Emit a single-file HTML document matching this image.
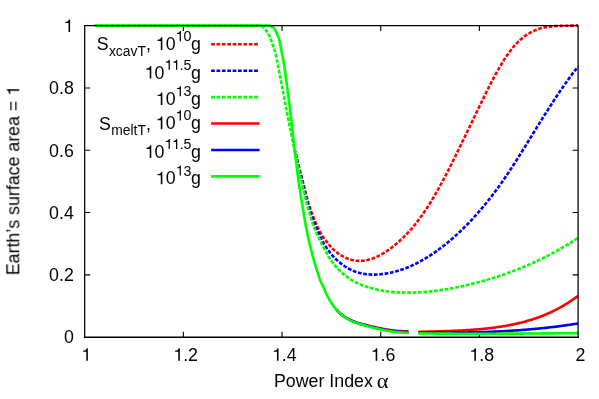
<!DOCTYPE html>
<html><head><meta charset="utf-8"><title>plot</title>
<style>
html,body{margin:0;padding:0;background:#fff;}
body{width:599px;height:399px;position:relative;overflow:hidden;font-family:"Liberation Sans",sans-serif;}
</style></head><body>
<svg width="599" height="399" viewBox="0 0 599 399" style="position:absolute;left:0;top:0">
<rect width="599" height="399" fill="#fff"/>
<g fill="none" stroke="#000" stroke-width="1.1">
<path d="M183.36,337.2 v-5.5 M183.36,25.62 v5.5"/>
<path d="M84.67,274.88 h5.5 M578.1,274.88 h-5.5"/>
<path d="M282.04,337.2 v-5.5 M282.04,25.62 v5.5"/>
<path d="M84.67,212.57 h5.5 M578.1,212.57 h-5.5"/>
<path d="M380.73,337.2 v-5.5 M380.73,25.62 v5.5"/>
<path d="M84.67,150.25 h5.5 M578.1,150.25 h-5.5"/>
<path d="M479.41,337.2 v-5.5 M479.41,25.62 v5.5"/>
<path d="M84.67,87.94 h5.5 M578.1,87.94 h-5.5"/>
</g>
<g fill="none" stroke-linejoin="round" stroke-width="2.62">
<path d="M294.99,150.91 L295.22,151.88 L295.45,152.85 L295.68,153.83 L295.92,154.80 L296.15,155.77 L296.39,156.74 L296.63,157.71 L296.87,158.68 L297.11,159.65 L297.36,160.62 L297.60,161.59 L297.85,162.56 L298.10,163.53 L298.35,164.50 L298.60,165.47 L298.85,166.43 L299.10,167.40 L299.35,168.37 L299.60,169.34 L299.86,170.31 L300.11,171.27 L300.37,172.24 L300.62,173.21 L300.87,174.18 L301.13,175.14 L301.38,176.11 L301.64,177.08 L301.89,178.04 L302.14,179.01 L302.39,179.98 L302.65,180.95 L302.89,181.92 L303.14,182.89 L303.39,183.86 L303.63,184.83 L303.87,185.80 L304.11,186.77 L304.36,187.74 L304.60,188.72 L304.84,189.69 L305.08,190.66 L305.33,191.63 L305.57,192.60 L305.82,193.57 L306.07,194.54 L306.32,195.51 L306.57,196.48 L306.83,197.44 L307.09,198.41 L307.35,199.37 L307.62,200.34 L307.89,201.30 L308.17,202.26 L308.45,203.21 L308.74,204.17 L309.03,205.12 L309.32,206.08 L309.63,207.03 L309.94,207.97 L310.26,208.92 L310.59,209.87 L310.92,210.81 L311.26,211.75 L311.60,212.69 L311.96,213.63 L312.31,214.57 L312.68,215.50 L313.04,216.43 L313.42,217.36 L313.79,218.29 L314.17,219.21 L314.56,220.13 L314.94,221.05 L315.34,221.97 L315.73,222.89 L316.14,223.81 L316.55,224.72 L316.96,225.64 L317.38,226.55 L317.81,227.46 L318.24,228.36 L318.69,229.26 L319.13,230.16 L319.59,231.04 L320.06,231.93 L320.53,232.80 L321.02,233.67 L321.51,234.54 L322.03,235.39 L322.58,236.23 L323.14,237.07 L323.71,237.89 L324.29,238.70 L324.89,239.49 L325.51,240.28 L326.14,241.06 L326.78,241.83 L327.42,242.59 L328.06,243.36 L328.70,244.14 L329.32,244.92 L329.93,245.71 L330.51,246.53 L331.12,247.32 L331.83,248.02 L332.56,248.71 L333.29,249.39 L334.04,250.06 L334.79,250.71 L335.56,251.36 L336.33,251.98 L337.12,252.60 L337.92,253.20 L338.73,253.78 L339.56,254.35 L340.39,254.90 L341.24,255.43 L342.10,255.94 L342.97,256.43 L343.85,256.91 L344.75,257.35 L345.65,257.78 L346.57,258.18 L347.49,258.56 L348.43,258.91 L349.38,259.23 L350.33,259.53 L351.30,259.79 L352.27,260.03 L353.24,260.24 L354.23,260.42 L355.22,260.57 L356.21,260.69 L357.21,260.78 L358.20,260.84 L359.20,260.87 L360.20,260.87 L361.20,260.84 L362.20,260.78 L363.20,260.69 L364.19,260.58 L365.18,260.43 L366.17,260.26 L367.15,260.07 L368.12,259.85 L369.09,259.60 L370.05,259.34 L371.01,259.05 L371.96,258.73 L372.91,258.40 L373.84,258.05 L374.77,257.68 L375.69,257.30 L376.61,256.89 L377.52,256.47 L378.41,256.03 L379.31,255.58 L380.19,255.12 L381.07,254.64 L381.94,254.15 L382.81,253.64 L383.66,253.13 L384.51,252.60 L385.36,252.06 L386.19,251.52 L387.02,250.96 L387.85,250.39 L388.66,249.82 L389.47,249.23 L390.28,248.64 L391.08,248.04 L391.87,247.43 L392.66,246.82 L393.45,246.20 L394.23,245.57 L395.00,244.93 L395.77,244.29 L396.53,243.65 L397.29,243.00 L398.04,242.34 L398.79,241.67 L399.53,241.00 L400.27,240.33 L401.00,239.65 L401.73,238.96 L402.45,238.27 L403.17,237.58 L403.88,236.87 L404.59,236.17 L405.29,235.46 L405.99,234.74 L406.68,234.02 L407.37,233.29 L408.05,232.56 L408.73,231.83 L409.40,231.09 L410.07,230.34 L410.73,229.59 L411.39,228.84 L412.04,228.08 L412.69,227.32 L413.34,226.55 L413.97,225.78 L414.61,225.01 L415.24,224.23 L415.86,223.45 L416.48,222.67 L417.10,221.88 L417.71,221.09 L418.32,220.29 L418.92,219.49 L419.52,218.69 L420.11,217.89 L420.70,217.08 L421.28,216.27 L421.86,215.46 L422.44,214.64 L423.02,213.82 L423.58,213.00 L424.15,212.17 L424.71,211.35 L425.27,210.52 L425.83,209.69 L426.38,208.85 L426.93,208.02 L427.47,207.18 L428.01,206.34 L428.55,205.49 L429.09,204.65 L429.62,203.80 L430.15,202.95 L430.68,202.10 L431.20,201.25 L431.72,200.40 L432.24,199.54 L432.75,198.69 L433.27,197.83 L433.78,196.97 L434.28,196.10 L434.79,195.24 L435.29,194.38 L435.79,193.51 L436.29,192.64 L436.78,191.77 L437.27,190.90 L437.76,190.03 L438.25,189.16 L438.74,188.29 L439.22,187.41 L439.71,186.54 L440.19,185.66 L440.67,184.78 L441.14,183.90 L441.62,183.02 L442.09,182.14 L442.57,181.26 L443.04,180.38 L443.51,179.50 L443.97,178.61 L444.44,177.73 L444.91,176.84 L445.37,175.96 L445.83,175.07 L446.29,174.18 L446.75,173.29 L447.21,172.40 L447.67,171.52 L448.12,170.63 L448.58,169.74 L449.03,168.84 L449.49,167.95 L449.94,167.06 L450.39,166.17 L450.84,165.28 L451.29,164.38 L451.74,163.49 L452.19,162.59 L452.63,161.70 L453.08,160.80 L453.52,159.91 L453.97,159.01 L454.41,158.12 L454.85,157.22 L455.30,156.32 L455.74,155.43 L456.18,154.53 L456.62,153.63 L457.06,152.73 L457.50,151.84 L457.94,150.94 L458.38,150.04 L458.82,149.14 L459.25,148.24 L459.69,147.34 L460.13,146.44 L460.57,145.54 L461.00,144.64 L461.44,143.74 L461.87,142.84 L462.31,141.94 L462.75,141.04 L463.18,140.14 L463.62,139.24 L464.05,138.34 L464.48,137.44 L464.92,136.54 L465.35,135.64 L465.79,134.74 L466.22,133.84 L466.65,132.93 L467.09,132.03 L467.52,131.13 L467.95,130.23 L468.39,129.33 L468.82,128.43 L469.25,127.53 L469.68,126.63 L470.12,125.72 L470.55,124.82 L470.98,123.92 L471.42,123.02 L471.85,122.12 L472.28,121.22 L472.71,120.31 L473.15,119.41 L473.58,118.51 L474.01,117.61 L474.44,116.71 L474.88,115.81 L475.31,114.91 L475.74,114.00 L476.18,113.10 L476.61,112.20 L477.04,111.30 L477.48,110.40 L477.91,109.50 L478.35,108.60 L478.78,107.70 L479.21,106.80 L479.65,105.90 L480.08,105.00 L480.52,104.10 L480.95,103.19 L481.39,102.29 L481.83,101.40 L482.26,100.50 L482.70,99.60 L483.14,98.70 L483.58,97.80 L484.02,96.90 L484.46,96.00 L484.90,95.10 L485.34,94.21 L485.78,93.31 L486.22,92.41 L486.67,91.52 L487.11,90.62 L487.56,89.73 L488.01,88.83 L488.46,87.94 L488.91,87.05 L489.36,86.16 L489.81,85.27 L490.27,84.37 L490.73,83.48 L491.18,82.60 L491.65,81.71 L492.11,80.82 L492.57,79.94 L493.04,79.05 L493.51,78.17 L493.98,77.28 L494.45,76.40 L494.92,75.52 L495.40,74.64 L495.88,73.77 L496.36,72.89 L496.85,72.02 L497.34,71.14 L497.83,70.27 L498.32,69.40 L498.82,68.54 L499.32,67.67 L499.82,66.81 L500.33,65.94 L500.84,65.08 L501.35,64.23 L501.87,63.37 L502.39,62.52 L502.92,61.67 L503.45,60.82 L503.99,59.98 L504.53,59.13 L505.07,58.30 L505.62,57.46 L506.18,56.63 L506.74,55.80 L507.30,54.98 L507.88,54.16 L508.46,53.34 L509.04,52.53 L509.63,51.72 L510.23,50.92 L510.84,50.13 L511.45,49.34 L512.08,48.56 L512.71,47.78 L513.35,47.01 L514.00,46.25 L514.66,45.50 L515.32,44.76 L516.00,44.02 L516.69,43.30 L517.39,42.58 L518.10,41.87 L518.81,41.18 L519.54,40.49 L520.28,39.82 L521.03,39.16 L521.79,38.51 L522.57,37.87 L523.35,37.25 L524.14,36.64 L524.95,36.05 L525.76,35.47 L526.59,34.91 L527.42,34.36 L528.27,33.83 L529.13,33.31 L530.00,32.82 L530.87,32.34 L531.76,31.88 L532.66,31.43 L533.56,31.01 L534.48,30.60 L535.40,30.22 L536.33,29.85 L537.27,29.50 L538.21,29.17 L539.16,28.86 L540.12,28.57 L541.08,28.29 L542.05,28.04 L543.02,27.80 L543.99,27.58 L544.97,27.38 L545.95,27.19 L546.94,27.02 L547.93,26.86 L548.92,26.72 L549.91,26.59 L550.90,26.47 L551.90,26.37 L552.89,26.28 L553.89,26.20 L554.89,26.13 L555.89,26.07 L556.88,26.01 L557.88,25.96 L558.88,25.92 L559.88,25.89 L560.88,25.86 L561.88,25.84 L562.88,25.81 L563.88,25.79 L564.88,25.77 L565.88,25.76 L566.88,25.74 L567.88,25.72 L568.88,25.70 L569.88,25.67 L570.88,25.64 L571.88,25.61 L572.88,25.57 L573.88,25.53 L574.87,25.48 L575.87,25.42 L576.87,25.35 L577.87,25.27 L578.00,25.26" stroke="#ff0000" stroke-dasharray="3.75 1.63" stroke-dashoffset="2.090"/>
<path d="M294.91,150.93 L295.13,151.90 L295.35,152.88 L295.57,153.85 L295.80,154.83 L296.02,155.80 L296.25,156.77 L296.48,157.75 L296.70,158.72 L296.94,159.69 L297.17,160.67 L297.40,161.64 L297.63,162.61 L297.87,163.58 L298.10,164.56 L298.34,165.53 L298.57,166.50 L298.81,167.47 L299.05,168.44 L299.29,169.41 L299.52,170.39 L299.76,171.36 L300.00,172.33 L300.24,173.30 L300.48,174.27 L300.72,175.24 L300.96,176.21 L301.20,177.18 L301.44,178.15 L301.68,179.12 L301.92,180.09 L302.16,181.06 L302.40,182.04 L302.64,183.01 L302.87,183.98 L303.11,184.95 L303.34,185.93 L303.58,186.90 L303.81,187.87 L304.05,188.84 L304.28,189.82 L304.52,190.79 L304.76,191.76 L305.00,192.73 L305.24,193.71 L305.48,194.68 L305.72,195.65 L305.97,196.62 L306.21,197.59 L306.46,198.55 L306.72,199.52 L306.97,200.49 L307.23,201.45 L307.49,202.42 L307.76,203.38 L308.03,204.34 L308.30,205.30 L308.58,206.26 L308.86,207.22 L309.14,208.18 L309.44,209.13 L309.73,210.09 L310.03,211.04 L310.34,212.00 L310.65,212.95 L310.96,213.90 L311.28,214.85 L311.60,215.80 L311.93,216.74 L312.26,217.69 L312.60,218.63 L312.94,219.57 L313.29,220.50 L313.64,221.43 L314.00,222.37 L314.37,223.29 L314.74,224.22 L315.13,225.15 L315.51,226.07 L315.90,226.99 L316.30,227.91 L316.70,228.83 L317.10,229.75 L317.50,230.66 L317.91,231.58 L318.32,232.49 L318.73,233.40 L319.14,234.31 L319.55,235.22 L319.97,236.14 L320.39,237.05 L320.81,237.95 L321.25,238.85 L321.69,239.75 L322.15,240.64 L322.62,241.52 L323.10,242.39 L323.61,243.25 L324.12,244.11 L324.65,244.96 L325.19,245.81 L325.73,246.65 L326.29,247.48 L326.85,248.31 L327.43,249.12 L328.02,249.93 L328.62,250.73 L329.22,251.53 L329.81,252.34 L330.39,253.16 L330.97,253.97 L331.63,254.72 L332.30,255.46 L332.98,256.19 L333.67,256.91 L334.37,257.63 L335.08,258.33 L335.80,259.03 L336.52,259.72 L337.26,260.39 L338.01,261.06 L338.76,261.72 L339.53,262.36 L340.30,262.99 L341.09,263.61 L341.88,264.22 L342.69,264.81 L343.50,265.39 L344.33,265.96 L345.16,266.51 L346.00,267.04 L346.86,267.56 L347.72,268.07 L348.60,268.55 L349.48,269.02 L350.37,269.48 L351.27,269.91 L352.18,270.32 L353.10,270.72 L354.03,271.10 L354.96,271.46 L355.90,271.80 L356.85,272.12 L357.80,272.42 L358.76,272.70 L359.73,272.96 L360.70,273.20 L361.67,273.42 L362.65,273.62 L363.64,273.80 L364.62,273.96 L365.61,274.10 L366.61,274.22 L367.60,274.33 L368.60,274.42 L369.59,274.49 L370.59,274.54 L371.59,274.58 L372.59,274.60 L373.59,274.60 L374.59,274.59 L375.59,274.57 L376.59,274.53 L377.59,274.48 L378.59,274.41 L379.58,274.34 L380.58,274.25 L381.58,274.15 L382.57,274.04 L383.56,273.91 L384.55,273.78 L385.54,273.63 L386.53,273.47 L387.52,273.31 L388.50,273.13 L389.48,272.93 L390.46,272.73 L391.44,272.52 L392.41,272.30 L393.38,272.07 L394.35,271.82 L395.32,271.57 L396.29,271.30 L397.25,271.03 L398.21,270.75 L399.16,270.45 L400.12,270.15 L401.07,269.84 L402.01,269.52 L402.96,269.19 L403.90,268.85 L404.84,268.50 L405.77,268.15 L406.70,267.78 L407.63,267.41 L408.55,267.03 L409.48,266.64 L410.39,266.24 L411.31,265.84 L412.22,265.42 L413.13,265.00 L414.03,264.58 L414.93,264.14 L415.83,263.70 L416.72,263.25 L417.61,262.80 L418.50,262.33 L419.38,261.87 L420.26,261.39 L421.14,260.91 L422.01,260.42 L422.88,259.93 L423.75,259.43 L424.61,258.92 L425.47,258.41 L426.32,257.89 L427.18,257.37 L428.02,256.84 L428.87,256.30 L429.71,255.77 L430.55,255.22 L431.39,254.67 L432.22,254.12 L433.05,253.56 L433.87,252.99 L434.69,252.42 L435.51,251.85 L436.33,251.27 L437.14,250.69 L437.95,250.10 L438.76,249.51 L439.56,248.91 L440.36,248.31 L441.16,247.71 L441.95,247.10 L442.74,246.49 L443.53,245.87 L444.32,245.25 L445.10,244.63 L445.88,244.00 L446.65,243.37 L447.43,242.74 L448.20,242.10 L448.96,241.46 L449.73,240.82 L450.49,240.17 L451.25,239.52 L452.01,238.86 L452.76,238.21 L453.51,237.55 L454.26,236.88 L455.00,236.22 L455.75,235.55 L456.49,234.87 L457.22,234.20 L457.96,233.52 L458.69,232.84 L459.42,232.15 L460.15,231.47 L460.87,230.78 L461.59,230.08 L462.31,229.39 L463.03,228.69 L463.74,227.99 L464.45,227.29 L465.16,226.58 L465.86,225.87 L466.57,225.16 L467.27,224.45 L467.96,223.73 L468.66,223.01 L469.35,222.29 L470.04,221.56 L470.73,220.84 L471.41,220.11 L472.10,219.38 L472.78,218.65 L473.45,217.91 L474.13,217.17 L474.80,216.43 L475.47,215.69 L476.14,214.94 L476.80,214.20 L477.47,213.45 L478.13,212.70 L478.78,211.94 L479.44,211.19 L480.09,210.43 L480.74,209.67 L481.39,208.91 L482.04,208.15 L482.68,207.38 L483.32,206.61 L483.96,205.84 L484.59,205.07 L485.23,204.30 L485.86,203.52 L486.49,202.75 L487.12,201.97 L487.74,201.19 L488.36,200.40 L488.98,199.62 L489.60,198.83 L490.22,198.05 L490.83,197.26 L491.44,196.47 L492.05,195.67 L492.66,194.88 L493.27,194.08 L493.87,193.28 L494.47,192.49 L495.07,191.68 L495.67,190.88 L496.26,190.08 L496.85,189.27 L497.44,188.46 L498.03,187.66 L498.62,186.85 L499.20,186.03 L499.78,185.22 L500.36,184.41 L500.94,183.59 L501.52,182.77 L502.09,181.95 L502.66,181.13 L503.23,180.31 L503.80,179.49 L504.37,178.67 L504.93,177.84 L505.50,177.01 L506.06,176.19 L506.62,175.36 L507.17,174.53 L507.73,173.70 L508.29,172.86 L508.84,172.03 L509.39,171.20 L509.94,170.36 L510.49,169.53 L511.04,168.69 L511.59,167.85 L512.13,167.02 L512.67,166.18 L513.22,165.34 L513.76,164.50 L514.30,163.65 L514.84,162.81 L515.38,161.97 L515.92,161.13 L516.45,160.28 L516.99,159.44 L517.53,158.60 L518.06,157.75 L518.59,156.90 L519.13,156.06 L519.66,155.21 L520.19,154.36 L520.72,153.52 L521.25,152.67 L521.78,151.82 L522.31,150.97 L522.84,150.12 L523.37,149.27 L523.89,148.43 L524.42,147.58 L524.95,146.73 L525.47,145.88 L526.00,145.02 L526.53,144.17 L527.05,143.32 L527.58,142.47 L528.10,141.62 L528.63,140.77 L529.15,139.92 L529.68,139.07 L530.20,138.22 L530.73,137.36 L531.25,136.51 L531.77,135.66 L532.30,134.81 L532.82,133.96 L533.35,133.11 L533.87,132.26 L534.40,131.41 L534.92,130.55 L535.45,129.70 L535.97,128.85 L536.50,128.00 L537.02,127.15 L537.55,126.30 L538.08,125.45 L538.60,124.60 L539.13,123.75 L539.66,122.90 L540.19,122.05 L540.71,121.20 L541.24,120.35 L541.77,119.51 L542.30,118.66 L542.83,117.81 L543.36,116.96 L543.89,116.11 L544.43,115.27 L544.96,114.42 L545.49,113.58 L546.03,112.73 L546.56,111.88 L547.10,111.04 L547.63,110.20 L548.17,109.35 L548.71,108.51 L549.24,107.67 L549.78,106.82 L550.32,105.98 L550.87,105.14 L551.41,104.30 L551.95,103.46 L552.49,102.62 L553.04,101.78 L553.58,100.95 L554.13,100.11 L554.68,99.27 L555.23,98.44 L555.78,97.60 L556.33,96.77 L556.88,95.93 L557.44,95.10 L557.99,94.27 L558.55,93.44 L559.11,92.61 L559.67,91.78 L560.23,90.95 L560.79,90.13 L561.36,89.30 L561.92,88.48 L562.49,87.65 L563.06,86.83 L563.63,86.01 L564.20,85.19 L564.78,84.37 L565.35,83.55 L565.93,82.74 L566.51,81.92 L567.09,81.11 L567.68,80.30 L568.26,79.49 L568.85,78.68 L569.44,77.87 L570.03,77.07 L570.63,76.26 L571.23,75.46 L571.83,74.66 L572.43,73.86 L573.03,73.07 L573.64,72.27 L574.25,71.48 L574.86,70.69 L575.48,69.90 L576.09,69.11 L576.72,68.33 L577.34,67.55 L577.97,66.77 L578.00,66.73" stroke="#0000ff" stroke-dasharray="3.75 1.63" stroke-dashoffset="2.089"/>
<path d="M94.50,25.50 L95.50,25.50 L96.50,25.50 L97.50,25.50 L98.50,25.50 L99.50,25.50 L100.50,25.50 L101.50,25.50 L102.50,25.50 L103.50,25.50 L104.50,25.50 L105.50,25.50 L106.50,25.50 L107.50,25.50 L108.50,25.50 L109.50,25.50 L110.50,25.50 L111.50,25.50 L112.50,25.50 L113.50,25.50 L114.50,25.50 L115.50,25.50 L116.50,25.50 L117.50,25.50 L118.50,25.50 L119.50,25.50 L120.50,25.50 L121.50,25.50 L122.50,25.50 L123.50,25.50 L124.50,25.50 L125.50,25.50 L126.50,25.50 L127.50,25.50 L128.50,25.50 L129.50,25.50 L130.50,25.50 L131.50,25.50 L132.50,25.50 L133.50,25.50 L134.50,25.50 L135.50,25.50 L136.50,25.50 L137.50,25.50 L138.50,25.50 L139.50,25.50 L140.50,25.50 L141.50,25.50 L142.50,25.50 L143.50,25.50 L144.50,25.50 L145.50,25.50 L146.50,25.50 L147.50,25.50 L148.50,25.50 L149.50,25.50 L150.50,25.50 L151.50,25.50 L152.50,25.50 L153.50,25.50 L154.50,25.50 L155.50,25.50 L156.50,25.50 L157.50,25.50 L158.50,25.50 L159.50,25.50 L160.50,25.50 L161.50,25.50 L162.50,25.50 L163.50,25.50 L164.50,25.50 L165.50,25.50 L166.50,25.50 L167.50,25.50 L168.50,25.50 L169.50,25.50 L170.50,25.50 L171.50,25.50 L172.50,25.50 L173.50,25.50 L174.50,25.50 L175.50,25.50 L176.50,25.50 L177.50,25.50 L178.50,25.50 L179.50,25.50 L180.50,25.50 L181.50,25.50 L182.50,25.50 L183.50,25.50 L184.50,25.50 L185.50,25.50 L186.50,25.50 L187.50,25.50 L188.50,25.50 L189.50,25.50 L190.50,25.50 L191.50,25.50 L192.50,25.50 L193.50,25.50 L194.50,25.50 L195.50,25.50 L196.50,25.50 L197.50,25.50 L198.50,25.50 L199.50,25.50 L200.50,25.50 L201.50,25.50 L202.50,25.50 L203.50,25.50 L204.50,25.50 L205.50,25.50 L206.50,25.50 L207.50,25.50 L208.50,25.50 L209.50,25.50 L210.50,25.50 L211.50,25.50 L212.50,25.50 L213.50,25.50 L214.50,25.50 L215.50,25.50 L216.50,25.50 L217.50,25.50 L218.50,25.50 L219.50,25.50 L220.50,25.50 L221.50,25.50 L222.50,25.50 L223.50,25.50 L224.50,25.50 L225.50,25.50 L226.50,25.50 L227.50,25.50 L228.50,25.50 L229.50,25.50 L230.50,25.50 L231.50,25.50 L232.50,25.50 L233.50,25.50 L234.50,25.50 L235.50,25.50 L236.50,25.50 L237.50,25.50 L238.50,25.50 L239.50,25.50 L240.50,25.50 L241.50,25.50 L242.50,25.50 L243.50,25.50 L244.50,25.50 L245.50,25.50 L246.50,25.50 L247.50,25.50 L248.50,25.50 L249.50,25.50 L250.50,25.50 L251.50,25.50 L252.50,25.50 L253.50,25.50 L254.50,25.50 L255.50,25.50 L256.50,25.50 L257.50,25.50 L258.50,25.50 L259.49,25.54 L260.41,25.95 L261.34,26.32 L262.27,26.69 L263.20,27.06 L264.15,27.42 L264.73,28.19 L265.26,29.04 L265.78,29.89 L266.31,30.74 L266.84,31.59 L267.36,32.44 L267.89,33.29 L268.42,34.14 L268.95,34.99 L269.38,35.88 L269.74,36.82 L270.09,37.75 L270.45,38.69 L270.80,39.62 L271.16,40.56 L271.51,41.49 L271.87,42.43 L272.22,43.36 L272.58,44.30 L272.94,45.23 L273.29,46.17 L273.65,47.10 L274.00,48.04 L274.30,48.98 L274.58,49.94 L274.84,50.90 L275.10,51.86 L275.34,52.82 L275.58,53.79 L275.81,54.76 L276.03,55.73 L276.25,56.71 L276.46,57.69 L276.66,58.67 L276.86,59.65 L277.06,60.63 L277.25,61.62 L277.44,62.60 L277.62,63.59 L277.81,64.58 L277.99,65.57 L278.18,66.55 L278.36,67.54 L278.54,68.53 L278.73,69.51 L278.91,70.50 L279.10,71.48 L279.29,72.47 L279.49,73.45 L279.69,74.43 L279.89,75.41 L280.08,76.39 L280.28,77.37 L280.47,78.35 L280.67,79.33 L280.86,80.31 L281.05,81.29 L281.25,82.27 L281.44,83.26 L281.63,84.24 L281.82,85.22 L282.01,86.20 L282.19,87.18 L282.38,88.17 L282.57,89.15 L282.76,90.13 L282.95,91.11 L283.13,92.10 L283.32,93.08 L283.51,94.06 L283.69,95.04 L283.88,96.03 L284.07,97.01 L284.25,97.99 L284.44,98.97 L284.63,99.96 L284.81,100.94 L285.00,101.92 L285.19,102.90 L285.38,103.88 L285.57,104.87 L285.75,105.85 L285.94,106.83 L286.13,107.81 L286.31,108.80 L286.50,109.78 L286.68,110.76 L286.87,111.74 L287.05,112.73 L287.24,113.71 L287.42,114.69 L287.61,115.68 L287.79,116.66 L287.98,117.64 L288.17,118.62 L288.36,119.60 L288.54,120.59 L288.73,121.57 L288.92,122.55 L289.11,123.53 L289.31,124.51 L289.50,125.49 L289.69,126.48 L289.89,127.46 L290.09,128.44 L290.28,129.42 L290.48,130.40 L290.68,131.38 L290.88,132.36 L291.08,133.34 L291.28,134.32 L291.48,135.30 L291.69,136.27 L291.89,137.25 L292.09,138.23 L292.30,139.21 L292.50,140.19 L292.71,141.17 L292.91,142.15 L293.12,143.13 L293.32,144.11 L293.53,145.08 L293.74,146.06 L293.94,147.04 L294.15,148.02 L294.36,149.00 L294.57,149.98 L294.78,150.95 L294.99,151.93 L295.19,152.91 L295.40,153.89 L295.61,154.86 L295.82,155.84 L296.03,156.82 L296.24,157.80 L296.45,158.78 L296.66,159.75 L296.87,160.73 L297.08,161.71 L297.30,162.69 L297.51,163.66 L297.72,164.64 L297.93,165.62 L298.15,166.59 L298.36,167.57 L298.58,168.55 L298.79,169.52 L299.01,170.50 L299.23,171.48 L299.44,172.45 L299.66,173.43 L299.88,174.41 L300.10,175.38 L300.32,176.36 L300.54,177.33 L300.76,178.31 L300.99,179.28 L301.21,180.26 L301.43,181.23 L301.66,182.20 L301.88,183.18 L302.11,184.15 L302.33,185.13 L302.56,186.10 L302.79,187.08 L303.01,188.05 L303.24,189.02 L303.47,190.00 L303.70,190.97 L303.93,191.94 L304.16,192.92 L304.40,193.89 L304.63,194.86 L304.86,195.83 L305.10,196.81 L305.34,197.78 L305.57,198.75 L305.81,199.72 L306.06,200.69 L306.30,201.66 L306.54,202.63 L306.79,203.60 L307.03,204.57 L307.28,205.54 L307.53,206.50 L307.78,207.47 L308.04,208.44 L308.30,209.41 L308.56,210.37 L308.82,211.34 L309.10,212.30 L309.38,213.26 L309.66,214.22 L309.95,215.17 L310.25,216.13 L310.55,217.08 L310.85,218.03 L311.16,218.99 L311.48,219.93 L311.80,220.88 L312.12,221.83 L312.45,222.77 L312.79,223.71 L313.13,224.66 L313.47,225.59 L313.82,226.53 L314.18,227.46 L314.54,228.40 L314.90,229.33 L315.27,230.26 L315.65,231.19 L316.03,232.11 L316.42,233.03 L316.83,233.95 L317.24,234.85 L317.67,235.75 L318.12,236.65 L318.57,237.54 L319.02,238.44 L319.47,239.33 L319.91,240.23 L320.34,241.13 L320.77,242.04 L321.20,242.94 L321.63,243.84 L322.06,244.74 L322.51,245.63 L322.99,246.52 L323.48,247.39 L323.99,248.25 L324.52,249.10 L325.04,249.96 L325.54,250.82 L326.04,251.69 L326.50,252.58 L326.92,253.48 L327.28,254.42 L327.65,255.35 L328.14,256.21 L328.71,257.03 L329.28,257.86 L329.85,258.68 L330.42,259.50 L331.01,260.31 L331.60,261.12 L332.20,261.92 L332.80,262.71 L333.42,263.50 L334.05,264.28 L334.68,265.05 L335.32,265.82 L335.97,266.58 L336.63,267.33 L337.30,268.07 L337.98,268.81 L338.67,269.53 L339.37,270.25 L340.08,270.96 L340.79,271.65 L341.52,272.34 L342.26,273.01 L343.01,273.68 L343.76,274.33 L344.53,274.97 L345.31,275.60 L346.10,276.22 L346.89,276.82 L347.70,277.41 L348.52,277.99 L349.34,278.55 L350.18,279.10 L351.02,279.64 L351.87,280.16 L352.73,280.67 L353.60,281.16 L354.48,281.64 L355.37,282.11 L356.26,282.56 L357.16,283.00 L358.07,283.42 L358.98,283.83 L359.90,284.22 L360.82,284.61 L361.75,284.97 L362.68,285.33 L363.62,285.68 L364.56,286.01 L365.51,286.34 L366.46,286.65 L367.41,286.96 L368.37,287.25 L369.33,287.54 L370.29,287.82 L371.25,288.09 L372.21,288.35 L373.18,288.61 L374.15,288.86 L375.12,289.09 L376.09,289.32 L377.07,289.54 L378.05,289.76 L379.02,289.96 L380.01,290.16 L380.99,290.35 L381.97,290.53 L382.96,290.70 L383.94,290.86 L384.93,291.02 L385.92,291.17 L386.91,291.31 L387.90,291.45 L388.89,291.57 L389.88,291.69 L390.88,291.80 L391.87,291.91 L392.87,292.00 L393.86,292.09 L394.86,292.18 L395.86,292.25 L396.86,292.32 L397.85,292.39 L398.85,292.44 L399.85,292.49 L400.85,292.54 L401.85,292.57 L402.85,292.61 L403.85,292.63 L404.85,292.65 L405.85,292.66 L406.85,292.67 L407.85,292.67 L408.85,292.67 L409.85,292.66 L410.85,292.65 L411.85,292.63 L412.85,292.61 L413.85,292.58 L414.85,292.55 L415.85,292.51 L416.84,292.47 L417.84,292.42 L418.84,292.37 L419.84,292.31 L420.84,292.25 L421.84,292.19 L422.83,292.12 L423.83,292.04 L424.83,291.96 L425.82,291.88 L426.82,291.80 L427.82,291.70 L428.81,291.61 L429.81,291.51 L430.80,291.41 L431.80,291.30 L432.79,291.19 L433.78,291.07 L434.78,290.95 L435.77,290.83 L436.76,290.70 L437.75,290.57 L438.74,290.44 L439.73,290.30 L440.72,290.15 L441.71,290.01 L442.70,289.86 L443.69,289.70 L444.68,289.55 L445.66,289.39 L446.65,289.22 L447.64,289.06 L448.62,288.88 L449.61,288.71 L450.59,288.53 L451.57,288.35 L452.56,288.17 L453.54,287.98 L454.52,287.79 L455.50,287.59 L456.48,287.40 L457.46,287.20 L458.44,286.99 L459.42,286.79 L460.40,286.58 L461.37,286.36 L462.35,286.15 L463.33,285.93 L464.30,285.71 L465.28,285.49 L466.25,285.26 L467.22,285.03 L468.20,284.80 L469.17,284.56 L470.14,284.33 L471.11,284.09 L472.08,283.84 L473.05,283.60 L474.02,283.35 L474.99,283.10 L475.95,282.85 L476.92,282.59 L477.89,282.34 L478.85,282.08 L479.82,281.81 L480.78,281.55 L481.75,281.28 L482.71,281.01 L483.67,280.74 L484.63,280.47 L485.60,280.19 L486.56,279.92 L487.52,279.63 L488.48,279.35 L489.43,279.07 L490.39,278.78 L491.35,278.49 L492.30,278.20 L493.26,277.90 L494.21,277.60 L495.17,277.30 L496.12,277.00 L497.07,276.69 L498.02,276.39 L498.98,276.08 L499.93,275.76 L500.87,275.45 L501.82,275.13 L502.77,274.81 L503.72,274.48 L504.66,274.16 L505.61,273.83 L506.55,273.50 L507.49,273.16 L508.43,272.83 L509.37,272.49 L510.31,272.15 L511.25,271.80 L512.19,271.45 L513.13,271.10 L514.06,270.75 L515.00,270.39 L515.93,270.03 L516.86,269.67 L517.79,269.31 L518.72,268.94 L519.65,268.57 L520.58,268.20 L521.51,267.82 L522.43,267.45 L523.36,267.06 L524.28,266.68 L525.20,266.29 L526.12,265.90 L527.04,265.51 L527.96,265.12 L528.88,264.72 L529.80,264.32 L530.71,263.91 L531.62,263.51 L532.54,263.10 L533.45,262.69 L534.36,262.27 L535.27,261.85 L536.17,261.43 L537.08,261.01 L537.98,260.58 L538.89,260.15 L539.79,259.72 L540.69,259.28 L541.59,258.85 L542.48,258.40 L543.38,257.96 L544.28,257.51 L545.17,257.06 L546.06,256.61 L546.95,256.16 L547.84,255.70 L548.73,255.24 L549.61,254.77 L550.50,254.31 L551.38,253.84 L552.26,253.37 L553.14,252.89 L554.02,252.41 L554.90,251.93 L555.77,251.45 L556.65,250.96 L557.52,250.47 L558.39,249.98 L559.26,249.49 L560.12,248.99 L560.99,248.49 L561.85,247.98 L562.72,247.48 L563.58,246.97 L564.44,246.46 L565.30,245.94 L566.15,245.43 L567.01,244.91 L567.86,244.38 L568.71,243.86 L569.56,243.33 L570.41,242.80 L571.25,242.27 L572.10,241.73 L572.94,241.19 L573.78,240.65 L574.62,240.11 L575.46,239.56 L576.29,239.01 L577.13,238.46 L577.96,237.91 L578.00,237.88" stroke="#00ff00" stroke-dasharray="3.75 1.63"/>
<path d="M336.25,309.47 L336.91,310.22 L337.59,310.96 L338.29,311.67 L339.00,312.38 L339.73,313.06 L340.48,313.72 L341.26,314.34 L342.05,314.96 L342.86,315.55 L343.67,316.13 L344.50,316.69 L345.34,317.23 L346.20,317.75 L347.06,318.25 L347.94,318.74 L348.82,319.21 L349.71,319.65 L350.62,320.08 L351.53,320.50 L352.45,320.89 L353.37,321.27 L354.31,321.63 L355.24,321.97 L356.19,322.30 L357.14,322.62 L358.09,322.92 L359.05,323.21 L360.01,323.50 L360.97,323.77 L361.93,324.03 L362.90,324.29 L363.87,324.54 L364.84,324.79 L365.81,325.03 L366.78,325.28 L367.75,325.52 L368.72,325.76 L369.69,325.99 L370.66,326.22 L371.63,326.45 L372.61,326.68 L373.58,326.90 L374.56,327.12 L375.54,327.34 L376.51,327.55 L377.49,327.76 L378.47,327.97 L379.45,328.17 L380.43,328.36 L381.41,328.55 L382.39,328.74 L383.38,328.92 L384.36,329.10 L385.35,329.27 L386.33,329.44 L387.32,329.60 L388.31,329.75 L389.30,329.90 L390.29,330.04 L391.28,330.18 L392.27,330.31 L393.26,330.44 L394.25,330.55 L395.25,330.66 L396.24,330.77 L397.24,330.86 L398.23,330.95 L399.23,331.03 L400.23,331.11 L401.23,331.17 L402.22,331.23 L403.22,331.28 L404.22,331.32 L405.22,331.35 L406.22,331.38 L407.22,331.39 L408.22,331.40 L408.50,331.40" stroke="#ff0000"/>
<path d="M418.50,331.99 L419.50,331.95 L420.50,331.92 L421.50,331.88 L422.50,331.85 L423.50,331.81 L424.50,331.78 L425.50,331.75 L426.50,331.72 L427.49,331.68 L428.49,331.65 L429.49,331.62 L430.49,331.59 L431.49,331.56 L432.49,331.53 L433.49,331.50 L434.49,331.47 L435.49,331.44 L436.49,331.41 L437.49,331.38 L438.49,331.35 L439.49,331.32 L440.49,331.28 L441.49,331.25 L442.49,331.22 L443.49,331.19 L444.49,331.16 L445.49,331.12 L446.49,331.09 L447.48,331.05 L448.48,331.02 L449.48,330.98 L450.48,330.94 L451.48,330.91 L452.48,330.87 L453.48,330.83 L454.48,330.78 L455.48,330.74 L456.48,330.70 L457.48,330.65 L458.48,330.61 L459.47,330.56 L460.47,330.51 L461.47,330.46 L462.47,330.41 L463.47,330.35 L464.47,330.30 L465.47,330.24 L466.46,330.18 L467.46,330.12 L468.46,330.06 L469.46,329.99 L470.46,329.93 L471.45,329.86 L472.45,329.79 L473.45,329.71 L474.45,329.64 L475.44,329.56 L476.44,329.48 L477.44,329.40 L478.43,329.31 L479.43,329.23 L480.42,329.14 L481.42,329.05 L482.42,328.95 L483.41,328.85 L484.41,328.75 L485.40,328.65 L486.40,328.54 L487.39,328.44 L488.38,328.32 L489.38,328.21 L490.37,328.09 L491.36,327.97 L492.35,327.85 L493.35,327.72 L494.34,327.59 L495.33,327.45 L496.32,327.32 L497.31,327.17 L498.30,327.03 L499.29,326.88 L500.28,326.73 L501.26,326.58 L502.25,326.42 L503.24,326.26 L504.22,326.09 L505.21,325.92 L506.19,325.75 L507.18,325.57 L508.16,325.39 L509.14,325.20 L510.13,325.01 L511.11,324.82 L512.09,324.62 L513.07,324.42 L514.05,324.21 L515.02,324.00 L516.00,323.79 L516.98,323.57 L517.95,323.35 L518.92,323.12 L519.90,322.88 L520.87,322.65 L521.84,322.40 L522.81,322.16 L523.77,321.90 L524.74,321.65 L525.71,321.38 L526.67,321.11 L527.63,320.84 L528.59,320.56 L529.55,320.28 L530.51,319.99 L531.46,319.69 L532.42,319.39 L533.37,319.08 L534.32,318.77 L535.26,318.45 L536.21,318.13 L537.15,317.80 L538.10,317.46 L539.04,317.12 L539.97,316.77 L540.91,316.42 L541.84,316.06 L542.77,315.69 L543.70,315.32 L544.63,314.94 L545.55,314.56 L546.47,314.17 L547.39,313.78 L548.31,313.37 L549.22,312.97 L550.13,312.55 L551.04,312.13 L551.94,311.71 L552.84,311.27 L553.74,310.84 L554.64,310.39 L555.53,309.94 L556.42,309.49 L557.31,309.02 L558.19,308.56 L559.07,308.08 L559.95,307.60 L560.82,307.12 L561.69,306.62 L562.56,306.13 L563.43,305.62 L564.29,305.11 L565.14,304.60 L566.00,304.08 L566.85,303.55 L567.70,303.02 L568.54,302.48 L569.38,301.94 L570.21,301.39 L571.05,300.84 L571.88,300.28 L572.70,299.71 L573.52,299.14 L574.34,298.57 L575.16,297.99 L575.97,297.40 L576.77,296.81 L577.58,296.22 L578.00,295.90" stroke="#ff0000"/>
<path d="M336.26,309.49 L336.93,310.24 L337.61,310.97 L338.30,311.69 L339.02,312.39 L339.75,313.07 L340.49,313.74 L341.26,314.37 L342.05,315.00 L342.84,315.60 L343.66,316.19 L344.48,316.75 L345.32,317.30 L346.16,317.83 L347.02,318.34 L347.89,318.84 L348.77,319.31 L349.66,319.77 L350.56,320.21 L351.46,320.63 L352.38,321.04 L353.30,321.43 L354.23,321.80 L355.16,322.15 L356.10,322.49 L357.05,322.82 L358.00,323.13 L358.95,323.44 L359.91,323.73 L360.87,324.01 L361.83,324.28 L362.79,324.55 L363.76,324.81 L364.72,325.07 L365.69,325.32 L366.66,325.58 L367.63,325.83 L368.60,326.08 L369.57,326.32 L370.54,326.56 L371.51,326.80 L372.48,327.04 L373.45,327.27 L374.43,327.50 L375.40,327.72 L376.37,327.94 L377.35,328.16 L378.33,328.38 L379.31,328.59 L380.28,328.79 L381.26,328.99 L382.24,329.19 L383.23,329.38 L384.21,329.56 L385.19,329.75 L386.18,329.92 L387.16,330.09 L388.15,330.26 L389.14,330.41 L390.12,330.57 L391.11,330.71 L392.10,330.85 L393.09,330.99 L394.09,331.11 L395.08,331.23 L396.07,331.35 L397.07,331.45 L398.06,331.55 L399.06,331.64 L400.05,331.73 L401.05,331.80 L402.05,331.87 L403.05,331.93 L404.05,331.98 L405.05,332.02 L406.04,332.06 L407.04,332.08 L408.04,332.10 L408.50,332.10" stroke="#0000ff"/>
<path d="M418.50,332.56 L419.50,332.57 L420.50,332.58 L421.50,332.59 L422.50,332.60 L423.50,332.61 L424.50,332.61 L425.50,332.62 L426.50,332.63 L427.50,332.64 L428.50,332.64 L429.50,332.65 L430.50,332.65 L431.50,332.66 L432.50,332.66 L433.50,332.67 L434.50,332.67 L435.50,332.67 L436.50,332.68 L437.50,332.68 L438.50,332.68 L439.50,332.68 L440.50,332.68 L441.50,332.68 L442.50,332.68 L443.50,332.68 L444.50,332.68 L445.50,332.67 L446.50,332.67 L447.50,332.67 L448.50,332.66 L449.50,332.66 L450.50,332.65 L451.50,332.64 L452.50,332.64 L453.50,332.63 L454.50,332.62 L455.50,332.61 L456.50,332.60 L457.50,332.59 L458.50,332.58 L459.50,332.57 L460.50,332.56 L461.50,332.54 L462.50,332.53 L463.50,332.51 L464.50,332.50 L465.50,332.48 L466.50,332.47 L467.50,332.45 L468.50,332.43 L469.50,332.41 L470.50,332.39 L471.50,332.37 L472.50,332.35 L473.50,332.32 L474.50,332.30 L475.50,332.27 L476.50,332.25 L477.50,332.22 L478.50,332.19 L479.49,332.17 L480.49,332.14 L481.49,332.11 L482.49,332.08 L483.49,332.04 L484.49,332.01 L485.49,331.98 L486.49,331.94 L487.49,331.91 L488.49,331.87 L489.49,331.83 L490.49,331.79 L491.49,331.75 L492.49,331.71 L493.49,331.67 L494.49,331.63 L495.48,331.58 L496.48,331.54 L497.48,331.49 L498.48,331.45 L499.48,331.40 L500.48,331.35 L501.48,331.30 L502.48,331.25 L503.47,331.19 L504.47,331.14 L505.47,331.09 L506.47,331.03 L507.47,330.97 L508.47,330.91 L509.46,330.85 L510.46,330.79 L511.46,330.73 L512.46,330.67 L513.46,330.61 L514.45,330.54 L515.45,330.47 L516.45,330.40 L517.45,330.34 L518.45,330.27 L519.44,330.19 L520.44,330.12 L521.44,330.05 L522.43,329.97 L523.43,329.89 L524.43,329.82 L525.43,329.74 L526.42,329.66 L527.42,329.57 L528.42,329.49 L529.41,329.41 L530.41,329.32 L531.40,329.23 L532.40,329.14 L533.40,329.05 L534.39,328.96 L535.39,328.87 L536.38,328.77 L537.38,328.68 L538.37,328.58 L539.37,328.48 L540.36,328.38 L541.36,328.28 L542.35,328.18 L543.35,328.07 L544.34,327.97 L545.34,327.86 L546.33,327.75 L547.32,327.64 L548.32,327.53 L549.31,327.42 L550.31,327.30 L551.30,327.19 L552.29,327.07 L553.28,326.95 L554.28,326.83 L555.27,326.70 L556.26,326.58 L557.25,326.46 L558.25,326.33 L559.24,326.20 L560.23,326.07 L561.22,325.94 L562.21,325.80 L563.20,325.67 L564.19,325.53 L565.18,325.39 L566.17,325.25 L567.16,325.11 L568.15,324.97 L569.14,324.82 L570.13,324.68 L571.12,324.53 L572.11,324.38 L573.10,324.23 L574.09,324.07 L575.07,323.92 L576.06,323.76 L577.05,323.60 L578.00,323.45" stroke="#0000ff"/>
<path d="M94.50,25.50 L95.50,25.50 L96.50,25.50 L97.50,25.50 L98.50,25.50 L99.50,25.50 L100.50,25.50 L101.50,25.50 L102.50,25.50 L103.50,25.50 L104.50,25.50 L105.50,25.50 L106.50,25.50 L107.50,25.50 L108.50,25.50 L109.50,25.50 L110.50,25.50 L111.50,25.50 L112.50,25.50 L113.50,25.50 L114.50,25.50 L115.50,25.50 L116.50,25.50 L117.50,25.50 L118.50,25.50 L119.50,25.50 L120.50,25.50 L121.50,25.50 L122.50,25.50 L123.50,25.50 L124.50,25.50 L125.50,25.50 L126.50,25.50 L127.50,25.50 L128.50,25.50 L129.50,25.50 L130.50,25.50 L131.50,25.50 L132.50,25.50 L133.50,25.50 L134.50,25.50 L135.50,25.50 L136.50,25.50 L137.50,25.50 L138.50,25.50 L139.50,25.50 L140.50,25.50 L141.50,25.50 L142.50,25.50 L143.50,25.50 L144.50,25.50 L145.50,25.50 L146.50,25.50 L147.50,25.50 L148.50,25.50 L149.50,25.50 L150.50,25.50 L151.50,25.50 L152.50,25.50 L153.50,25.50 L154.50,25.50 L155.50,25.50 L156.50,25.50 L157.50,25.50 L158.50,25.50 L159.50,25.50 L160.50,25.50 L161.50,25.50 L162.50,25.50 L163.50,25.50 L164.50,25.50 L165.50,25.50 L166.50,25.50 L167.50,25.50 L168.50,25.50 L169.50,25.50 L170.50,25.50 L171.50,25.50 L172.50,25.50 L173.50,25.50 L174.50,25.50 L175.50,25.50 L176.50,25.50 L177.50,25.50 L178.50,25.50 L179.50,25.50 L180.50,25.50 L181.50,25.50 L182.50,25.50 L183.50,25.50 L184.50,25.50 L185.50,25.50 L186.50,25.50 L187.50,25.50 L188.50,25.50 L189.50,25.50 L190.50,25.50 L191.50,25.50 L192.50,25.50 L193.50,25.50 L194.50,25.50 L195.50,25.50 L196.50,25.50 L197.50,25.50 L198.50,25.50 L199.50,25.50 L200.50,25.50 L201.50,25.50 L202.50,25.50 L203.50,25.50 L204.50,25.50 L205.50,25.50 L206.50,25.50 L207.50,25.50 L208.50,25.50 L209.50,25.50 L210.50,25.50 L211.50,25.50 L212.50,25.50 L213.50,25.50 L214.50,25.50 L215.50,25.50 L216.50,25.50 L217.50,25.50 L218.50,25.50 L219.50,25.50 L220.50,25.50 L221.50,25.50 L222.50,25.50 L223.50,25.50 L224.50,25.50 L225.50,25.50 L226.50,25.50 L227.50,25.50 L228.50,25.50 L229.50,25.50 L230.50,25.50 L231.50,25.50 L232.50,25.50 L233.50,25.50 L234.50,25.50 L235.50,25.50 L236.50,25.50 L237.50,25.50 L238.50,25.50 L239.50,25.50 L240.50,25.50 L241.50,25.50 L242.50,25.50 L243.50,25.50 L244.50,25.50 L245.50,25.50 L246.50,25.50 L247.50,25.50 L248.50,25.50 L249.50,25.50 L250.50,25.50 L251.50,25.50 L252.50,25.50 L253.50,25.50 L254.50,25.50 L255.50,25.50 L256.50,25.50 L257.50,25.50 L258.50,25.50 L259.50,25.50 L260.50,25.50 L261.50,25.50 L262.50,25.50 L263.50,25.50 L264.50,25.50 L265.50,25.50 L266.50,25.50 L267.50,25.50 L268.50,25.50 L269.47,25.61 L270.37,26.07 L271.27,26.51 L272.16,26.95 L273.06,27.39 L273.98,27.82 L274.47,28.66 L274.90,29.56 L275.33,30.46 L275.76,31.36 L276.20,32.27 L276.63,33.17 L277.06,34.07 L277.50,34.97 L277.93,35.87 L278.36,36.77 L278.80,37.67 L279.10,38.62 L279.29,39.60 L279.48,40.58 L279.67,41.56 L279.86,42.55 L280.04,43.53 L280.23,44.51 L280.42,45.49 L280.61,46.47 L280.80,47.46 L280.99,48.44 L281.18,49.42 L281.37,50.40 L281.55,51.38 L281.74,52.37 L281.93,53.35 L282.12,54.33 L282.31,55.31 L282.50,56.29 L282.69,57.28 L282.88,58.26 L283.07,59.24 L283.25,60.22 L283.44,61.20 L283.63,62.19 L283.82,63.17 L284.01,64.15 L284.17,65.14 L284.33,66.12 L284.47,67.11 L284.61,68.10 L284.75,69.09 L284.88,70.09 L285.01,71.08 L285.14,72.07 L285.27,73.06 L285.41,74.05 L285.54,75.04 L285.68,76.03 L285.81,77.02 L285.95,78.02 L286.08,79.01 L286.22,80.00 L286.35,80.99 L286.49,81.98 L286.62,82.97 L286.75,83.96 L286.89,84.95 L287.02,85.94 L287.15,86.94 L287.28,87.93 L287.41,88.92 L287.54,89.91 L287.67,90.90 L287.80,91.89 L287.93,92.88 L288.06,93.88 L288.19,94.87 L288.32,95.86 L288.45,96.85 L288.57,97.84 L288.70,98.83 L288.83,99.83 L288.95,100.82 L289.08,101.81 L289.20,102.80 L289.32,103.80 L289.45,104.79 L289.57,105.78 L289.69,106.77 L289.81,107.77 L289.93,108.76 L290.05,109.75 L290.17,110.74 L290.29,111.74 L290.41,112.73 L290.53,113.72 L290.65,114.72 L290.77,115.71 L290.88,116.70 L291.00,117.69 L291.12,118.69 L291.23,119.68 L291.35,120.67 L291.46,121.67 L291.58,122.66 L291.70,123.65 L291.81,124.65 L291.93,125.64 L292.04,126.63 L292.16,127.63 L292.27,128.62 L292.39,129.61 L292.50,130.61 L292.61,131.60 L292.72,132.60 L292.83,133.59 L292.94,134.58 L293.05,135.58 L293.16,136.57 L293.27,137.57 L293.38,138.56 L293.49,139.55 L293.60,140.55 L293.71,141.54 L293.82,142.54 L293.93,143.53 L294.04,144.52 L294.15,145.52 L294.26,146.51 L294.38,147.50 L294.49,148.50 L294.61,149.49 L294.72,150.48 L294.84,151.48 L294.96,152.47 L295.07,153.46 L295.19,154.46 L295.31,155.45 L295.43,156.44 L295.55,157.44 L295.67,158.43 L295.79,159.42 L295.91,160.41 L296.03,161.41 L296.16,162.40 L296.28,163.39 L296.40,164.38 L296.53,165.38 L296.65,166.37 L296.78,167.36 L296.90,168.35 L297.03,169.35 L297.16,170.34 L297.29,171.33 L297.41,172.32 L297.54,173.31 L297.68,174.30 L297.81,175.29 L297.94,176.29 L298.08,177.28 L298.21,178.27 L298.35,179.26 L298.48,180.25 L298.62,181.24 L298.76,182.23 L298.90,183.22 L299.05,184.21 L299.19,185.20 L299.34,186.19 L299.48,187.18 L299.63,188.16 L299.78,189.15 L299.93,190.14 L300.08,191.13 L300.23,192.12 L300.38,193.11 L300.54,194.10 L300.69,195.08 L300.85,196.07 L301.00,197.06 L301.16,198.05 L301.32,199.04 L301.47,200.02 L301.63,201.01 L301.79,202.00 L301.95,202.98 L302.12,203.97 L302.28,204.96 L302.44,205.94 L302.60,206.93 L302.77,207.92 L302.93,208.90 L303.09,209.89 L303.26,210.88 L303.42,211.86 L303.59,212.85 L303.75,213.84 L303.92,214.82 L304.09,215.81 L304.26,216.80 L304.43,217.78 L304.60,218.77 L304.77,219.75 L304.94,220.74 L305.12,221.72 L305.29,222.71 L305.47,223.69 L305.65,224.68 L305.83,225.66 L306.01,226.64 L306.20,227.63 L306.38,228.61 L306.57,229.59 L306.76,230.57 L306.96,231.55 L307.15,232.53 L307.35,233.51 L307.55,234.49 L307.76,235.47 L307.97,236.44 L308.18,237.42 L308.40,238.40 L308.63,239.37 L308.85,240.35 L309.08,241.32 L309.32,242.29 L309.55,243.27 L309.79,244.24 L310.02,245.21 L310.26,246.18 L310.49,247.15 L310.73,248.13 L310.97,249.10 L311.20,250.07 L311.44,251.04 L311.68,252.01 L311.92,252.98 L312.17,253.95 L312.41,254.92 L312.67,255.89 L312.92,256.85 L313.19,257.82 L313.45,258.78 L313.73,259.74 L314.00,260.70 L314.28,261.66 L314.57,262.62 L314.85,263.58 L315.14,264.54 L315.44,265.49 L315.73,266.45 L316.03,267.41 L316.33,268.36 L316.63,269.32 L316.93,270.27 L317.23,271.22 L317.53,272.18 L317.83,273.13 L318.13,274.09 L318.42,275.04 L318.72,276.00 L319.03,276.95 L319.34,277.90 L319.67,278.85 L320.02,279.78 L320.38,280.71 L320.78,281.62 L321.20,282.53 L321.63,283.43 L322.07,284.33 L322.52,285.23 L322.97,286.13 L323.40,287.03 L323.82,287.94 L324.22,288.85 L324.59,289.78 L324.95,290.72 L325.33,291.64 L325.75,292.55 L326.18,293.45 L326.61,294.35 L327.05,295.25 L327.51,296.14 L327.97,297.03 L328.44,297.91 L328.92,298.79 L329.41,299.66 L329.91,300.53 L330.42,301.39 L330.94,302.24 L331.48,303.08 L332.03,303.92 L332.59,304.74 L333.17,305.56 L333.76,306.37 L334.36,307.17 L334.98,307.95 L335.61,308.73 L336.26,309.49 L336.92,310.24 L337.60,310.97 L338.30,311.69 L339.01,312.39 L339.74,313.07 L340.49,313.74 L341.25,314.39 L342.02,315.02 L342.81,315.64 L343.61,316.23 L344.43,316.81 L345.26,317.37 L346.10,317.91 L346.95,318.43 L347.82,318.94 L348.69,319.43 L349.57,319.89 L350.46,320.35 L351.37,320.78 L352.27,321.20 L353.19,321.60 L354.12,321.98 L355.05,322.35 L355.98,322.70 L356.92,323.04 L357.87,323.36 L358.82,323.68 L359.77,323.98 L360.73,324.28 L361.68,324.56 L362.64,324.84 L363.61,325.11 L364.57,325.38 L365.53,325.65 L366.50,325.91 L367.46,326.17 L368.43,326.43 L369.40,326.68 L370.36,326.94 L371.33,327.19 L372.30,327.43 L373.27,327.68 L374.24,327.91 L375.21,328.15 L376.19,328.38 L377.16,328.61 L378.14,328.84 L379.11,329.06 L380.09,329.27 L381.06,329.48 L382.04,329.69 L383.02,329.89 L384.00,330.09 L384.98,330.28 L385.97,330.47 L386.95,330.65 L387.93,330.82 L388.92,330.99 L389.91,331.15 L390.89,331.31 L391.88,331.46 L392.87,331.61 L393.86,331.75 L394.85,331.88 L395.85,332.00 L396.84,332.12 L397.83,332.23 L398.83,332.33 L399.82,332.43 L400.82,332.51 L401.82,332.59 L402.81,332.66 L403.81,332.72 L404.81,332.78 L405.81,332.82 L406.81,332.86 L407.81,332.89 L408.50,332.90" stroke="#00ff00"/>
<path d="M418.50,333.35 L419.50,333.36 L420.50,333.37 L421.50,333.39 L422.50,333.40 L423.50,333.42 L424.50,333.43 L425.50,333.44 L426.50,333.45 L427.50,333.47 L428.50,333.48 L429.50,333.49 L430.50,333.50 L431.50,333.51 L432.50,333.52 L433.50,333.54 L434.50,333.55 L435.50,333.56 L436.50,333.57 L437.50,333.57 L438.50,333.58 L439.50,333.59 L440.50,333.60 L441.50,333.61 L442.50,333.62 L443.50,333.63 L444.50,333.63 L445.50,333.64 L446.50,333.65 L447.50,333.65 L448.50,333.66 L449.50,333.67 L450.50,333.67 L451.50,333.68 L452.50,333.68 L453.50,333.69 L454.50,333.70 L455.50,333.70 L456.50,333.70 L457.50,333.71 L458.50,333.71 L459.50,333.72 L460.50,333.72 L461.50,333.72 L462.50,333.73 L463.50,333.73 L464.50,333.73 L465.50,333.73 L466.50,333.74 L467.50,333.74 L468.50,333.74 L469.50,333.74 L470.50,333.74 L471.50,333.75 L472.50,333.75 L473.50,333.75 L474.50,333.75 L475.50,333.75 L476.50,333.75 L477.50,333.75 L478.50,333.75 L479.50,333.75 L480.50,333.75 L481.50,333.75 L482.50,333.74 L483.50,333.74 L484.50,333.74 L485.50,333.74 L486.50,333.74 L487.50,333.74 L488.50,333.73 L489.50,333.73 L490.50,333.73 L491.50,333.73 L492.50,333.72 L493.50,333.72 L494.50,333.72 L495.50,333.71 L496.50,333.71 L497.50,333.71 L498.50,333.70 L499.50,333.70 L500.50,333.70 L501.50,333.69 L502.50,333.69 L503.50,333.68 L504.50,333.68 L505.50,333.67 L506.50,333.67 L507.50,333.66 L508.50,333.66 L509.50,333.65 L510.50,333.65 L511.50,333.64 L512.50,333.64 L513.50,333.63 L514.50,333.62 L515.50,333.62 L516.50,333.61 L517.50,333.61 L518.50,333.60 L519.50,333.59 L520.50,333.59 L521.50,333.58 L522.50,333.57 L523.50,333.57 L524.50,333.56 L525.50,333.55 L526.50,333.55 L527.50,333.54 L528.50,333.53 L529.50,333.53 L530.50,333.52 L531.50,333.51 L532.50,333.50 L533.50,333.50 L534.50,333.49 L535.50,333.48 L536.50,333.47 L537.50,333.47 L538.50,333.46 L539.50,333.45 L540.50,333.44 L541.50,333.44 L542.50,333.43 L543.50,333.42 L544.50,333.41 L545.50,333.41 L546.50,333.40 L547.50,333.39 L548.50,333.38 L549.50,333.38 L550.50,333.37 L551.50,333.36 L552.50,333.35 L553.50,333.35 L554.50,333.34 L555.50,333.33 L556.50,333.32 L557.50,333.32 L558.50,333.31 L559.50,333.30 L560.50,333.29 L561.50,333.29 L562.50,333.28 L563.50,333.27 L564.50,333.27 L565.50,333.26 L566.50,333.25 L567.50,333.24 L568.50,333.24 L569.50,333.23 L570.50,333.22 L571.50,333.22 L572.50,333.21 L573.50,333.20 L574.50,333.20 L575.50,333.19 L576.50,333.18 L577.50,333.18 L578.00,333.17" stroke="#00ff00"/>
<path d="M211.1,44.30 L259.6,44.30" stroke="#ff0000" stroke-dasharray="3.75 1.63"/>
<path d="M211.1,70.72 L259.6,70.72" stroke="#0000ff" stroke-dasharray="3.75 1.63"/>
<path d="M211.1,97.14 L259.6,97.14" stroke="#00ff00" stroke-dasharray="3.75 1.63"/>
<path d="M211.1,123.56 L259.6,123.56" stroke="#ff0000"/>
<path d="M211.1,149.98 L259.6,149.98" stroke="#0000ff"/>
<path d="M211.1,176.40 L259.6,176.40" stroke="#00ff00"/>
</g>
<g fill="none" stroke="#000" stroke-width="1.25" stroke-linecap="square">
<path d="M84.67,25.62 H578.1 M84.67,25.62 V337.2 M578.1,25.62 V337.2"/>
<path stroke-width="1.4" d="M84.67,337.2 H578.1"/>
</g>
<g font-family="Liberation Sans, sans-serif" fill="#000" opacity="0.999" style="font-kerning:none">
<text x="63.91" y="343.30" font-size="17.78">0</text>
<text x="49.08 58.97 63.91" y="281.04" font-size="17.78">0.2</text>
<text x="49.08 58.97 63.91" y="218.78" font-size="17.78">0.4</text>
<text x="49.08 58.97 63.91" y="156.52" font-size="17.78">0.6</text>
<text x="49.08 58.97 63.91" y="94.26" font-size="17.78">0.8</text>
<path transform="translate(63.51,32.00) scale(17.780)" d="M0.371,0 H0.283 V-0.505 H0.102 V-0.568 C0.205,-0.581 0.265,-0.601 0.311,-0.709 H0.371 Z"/>
<path transform="translate(81.26,360.80) scale(17.780)" d="M0.371,0 H0.283 V-0.505 H0.102 V-0.568 C0.205,-0.581 0.265,-0.601 0.311,-0.709 H0.371 Z"/>
<path transform="translate(173.24,360.80) scale(17.780)" d="M0.371,0 H0.283 V-0.505 H0.102 V-0.568 C0.205,-0.581 0.265,-0.601 0.311,-0.709 H0.371 Z"/><text x="183.13 188.07" y="360.80" font-size="17.78">.2</text>
<path transform="translate(271.94,360.80) scale(17.780)" d="M0.371,0 H0.283 V-0.505 H0.102 V-0.568 C0.205,-0.581 0.265,-0.601 0.311,-0.709 H0.371 Z"/><text x="281.83 286.77" y="360.80" font-size="17.78">.4</text>
<path transform="translate(370.64,360.80) scale(17.780)" d="M0.371,0 H0.283 V-0.505 H0.102 V-0.568 C0.205,-0.581 0.265,-0.601 0.311,-0.709 H0.371 Z"/><text x="380.53 385.47" y="360.80" font-size="17.78">.6</text>
<path transform="translate(469.34,360.80) scale(17.780)" d="M0.371,0 H0.283 V-0.505 H0.102 V-0.568 C0.205,-0.581 0.265,-0.601 0.311,-0.709 H0.371 Z"/><text x="479.23 484.17" y="360.80" font-size="17.78">.8</text>
<text x="575.46" y="360.80" font-size="17.78">2</text>
<text x="274.00 285.86 295.75 308.59 318.48 329.34 334.28 344.17 354.05 363.94" y="387.40" font-size="17.78">PowerIndex</text>
<text transform="translate(376.75,387.7) scale(1.1,1)" font-family="Liberation Serif, serif" font-size="20.4">α</text>
<g transform="translate(19.3,275.2) rotate(-90)"><path transform="translate(179.37,0.00) scale(17.780)" d="M0.371,0 H0.283 V-0.505 H0.102 V-0.568 C0.205,-0.581 0.265,-0.601 0.311,-0.709 H0.371 Z"/><text x="0.00 11.86 21.75 27.67 32.61 42.50 46.45 60.28 69.17 79.06 84.98 89.92 99.80 108.69 123.52 133.41 139.33 149.22 164.05" y="0.00" font-size="17.78">Earth’ssurfacearea=</text></g>
<text x="190.96" y="49.95" font-size="17.78">g</text><path transform="translate(175.64,41.15) scale(14.224)" d="M0.371,0 H0.283 V-0.505 H0.102 V-0.568 C0.205,-0.581 0.265,-0.601 0.311,-0.709 H0.371 Z"/><text x="183.55" y="41.15" font-size="14.22">0</text><path transform="translate(155.76,49.95) scale(17.780)" d="M0.371,0 H0.283 V-0.505 H0.102 V-0.568 C0.205,-0.581 0.265,-0.601 0.311,-0.709 H0.371 Z"/><text x="165.65" y="49.95" font-size="17.78">0</text><text x="146.08" y="50.35" font-size="17.78">,</text><g transform="translate(108.89,0) scale(0.975,1)"><text x="0.00 7.11 14.22 22.13 29.25" y="55.65" font-size="14.22">xcavT</text></g><text x="96.73" y="50.35" font-size="17.78">S</text>
<text x="190.96" y="78.62" font-size="17.78">g</text><path transform="translate(164.57,69.82) scale(14.224)" d="M0.371,0 H0.283 V-0.505 H0.102 V-0.568 C0.205,-0.581 0.265,-0.601 0.311,-0.709 H0.371 Z"/><path transform="translate(171.98,69.82) scale(14.224)" d="M0.371,0 H0.283 V-0.505 H0.102 V-0.568 C0.205,-0.581 0.265,-0.601 0.311,-0.709 H0.371 Z"/><text x="179.69 183.55" y="69.82" font-size="14.22">.5</text><path transform="translate(144.70,78.62) scale(17.780)" d="M0.371,0 H0.283 V-0.505 H0.102 V-0.568 C0.205,-0.581 0.265,-0.601 0.311,-0.709 H0.371 Z"/><text x="154.59" y="78.62" font-size="17.78">0</text>
<text x="190.96" y="105.04" font-size="17.78">g</text><path transform="translate(175.64,96.24) scale(14.224)" d="M0.371,0 H0.283 V-0.505 H0.102 V-0.568 C0.205,-0.581 0.265,-0.601 0.311,-0.709 H0.371 Z"/><text x="183.55" y="96.24" font-size="14.22">3</text><path transform="translate(155.76,105.04) scale(17.780)" d="M0.371,0 H0.283 V-0.505 H0.102 V-0.568 C0.205,-0.581 0.265,-0.601 0.311,-0.709 H0.371 Z"/><text x="165.65" y="105.04" font-size="17.78">0</text>
<text x="190.96" y="129.21" font-size="17.78">g</text><path transform="translate(175.64,120.41) scale(14.224)" d="M0.371,0 H0.283 V-0.505 H0.102 V-0.568 C0.205,-0.581 0.265,-0.601 0.311,-0.709 H0.371 Z"/><text x="183.55" y="120.41" font-size="14.22">0</text><path transform="translate(155.76,129.21) scale(17.780)" d="M0.371,0 H0.283 V-0.505 H0.102 V-0.568 C0.205,-0.581 0.265,-0.601 0.311,-0.709 H0.371 Z"/><text x="165.65" y="129.21" font-size="17.78">0</text><text x="146.08" y="129.61" font-size="17.78">,</text><g transform="translate(111.21,0) scale(0.975,1)"><text x="0.00 11.85 19.76 22.92 26.87" y="134.91" font-size="14.22">meltT</text></g><text x="99.05" y="129.61" font-size="17.78">S</text>
<text x="190.96" y="157.88" font-size="17.78">g</text><path transform="translate(164.57,149.08) scale(14.224)" d="M0.371,0 H0.283 V-0.505 H0.102 V-0.568 C0.205,-0.581 0.265,-0.601 0.311,-0.709 H0.371 Z"/><path transform="translate(171.98,149.08) scale(14.224)" d="M0.371,0 H0.283 V-0.505 H0.102 V-0.568 C0.205,-0.581 0.265,-0.601 0.311,-0.709 H0.371 Z"/><text x="179.69 183.55" y="149.08" font-size="14.22">.5</text><path transform="translate(144.70,157.88) scale(17.780)" d="M0.371,0 H0.283 V-0.505 H0.102 V-0.568 C0.205,-0.581 0.265,-0.601 0.311,-0.709 H0.371 Z"/><text x="154.59" y="157.88" font-size="17.78">0</text>
<text x="190.96" y="184.30" font-size="17.78">g</text><path transform="translate(175.64,175.50) scale(14.224)" d="M0.371,0 H0.283 V-0.505 H0.102 V-0.568 C0.205,-0.581 0.265,-0.601 0.311,-0.709 H0.371 Z"/><text x="183.55" y="175.50" font-size="14.22">3</text><path transform="translate(155.76,184.30) scale(17.780)" d="M0.371,0 H0.283 V-0.505 H0.102 V-0.568 C0.205,-0.581 0.265,-0.601 0.311,-0.709 H0.371 Z"/><text x="165.65" y="184.30" font-size="17.78">0</text>
</g>
</svg>
</body></html>
